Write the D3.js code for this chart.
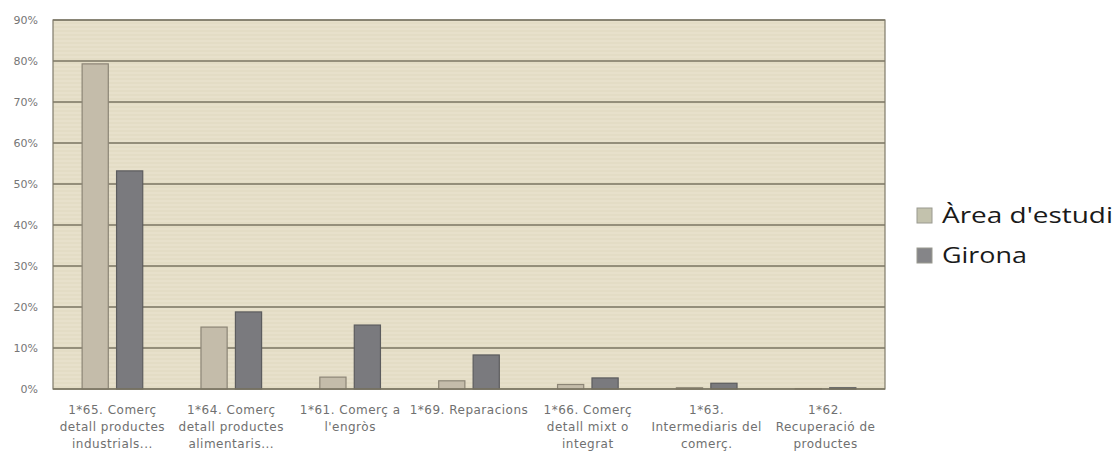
<!DOCTYPE html>
<html><head><meta charset="utf-8">
<script src="https://cdn.jsdelivr.net/npm/d3@7"></script>
<style>body{margin:0;background:#fff;} svg{display:block;}</style>
</head><body>
<svg id="chart" width="1119" height="457"></svg>
<script>
const categories = [
  ["1*65. Comerç","detall productes","industrials..."],
  ["1*64. Comerç","detall productes","alimentaris..."],
  ["1*61. Comerç a","l'engròs"],
  ["1*69. Reparacions"],
  ["1*66. Comerç","detall mixt o","integrat"],
  ["1*63.","Intermediaris del","comerç."],
  ["1*62.","Recuperació de","productes"]
];
const seriesNames = ["Àrea d'estudi", "Girona"];
const areaValues = [79.3, 15.1, 2.9, 2.0, 1.1, 0.3, 0.1];
const gironaValues = [53.2, 18.8, 15.6, 8.3, 2.7, 1.4, 0.3];
const yTicks = [0,10,20,30,40,50,60,70,80,90];

const fills = ["#c4bcaa", "#7a7a7e"];
const strokes = ["#8c8576", "#5c5c5e"];
const legendFills = ["#c3c2ad", "#858588"];

const svg = d3.select("#chart");
const m = {left:53, right:1119-885, top:20, bottom:457-389};
const W = 1119 - m.left - m.right, H = 457 - m.top - m.bottom;
const g = svg.append("g").attr("transform", `translate(${m.left},${m.top})`);

const x0 = d3.scaleBand().domain(d3.range(categories.length)).range([0,W]).paddingInner(0.49).paddingOuter(0.245);
const x1 = d3.scaleBand().domain([0,1]).range([0,x0.bandwidth()]).paddingInner(0.24);
const y = d3.scaleLinear().domain([0,90]).range([H,0]);

// background
g.append("rect").attr("width",W).attr("height",H).attr("fill","#e3dcc5");
const stripes = g.append("g");
for (let i=0;i<H;i+=4){ stripes.append("rect").attr("x",0).attr("y",i).attr("width",W).attr("height",2).attr("fill","#ebe5d2").attr("opacity",0.45); }

// gridlines
g.append("g").selectAll("line").data(yTicks.slice(1)).join("line")
  .attr("x1",0).attr("x2",W).attr("y1",d=>y(d)).attr("y2",d=>y(d))
  .attr("stroke","#7a7462").attr("stroke-width",1.6);

// frame
g.append("rect").attr("width",W).attr("height",H).attr("fill","none").attr("stroke","#7f7a6a").attr("stroke-width",1.2);

const FONT = "'DejaVu Sans', Verdana, sans-serif";

// y axis labels
const yAxis = d3.axisLeft(y).tickValues(yTicks).tickFormat(d=>d+"%").tickSize(0).tickPadding(15);
const ya = g.append("g").call(yAxis);
ya.select(".domain").remove();
ya.selectAll("text").attr("font-family",FONT).attr("font-size",11).attr("fill","#767676");

// bars
const data = categories.map((c,i)=>[areaValues[i], gironaValues[i]]);
const grp = g.append("g").selectAll("g").data(data).join("g").attr("transform",(d,i)=>`translate(${x0(i)},0)`);
grp.selectAll("rect").data(d=>d).join("rect")
  .attr("x",(d,j)=>x1(j)).attr("width",x1.bandwidth())
  .attr("y",d=>y(d)).attr("height",d=>H-y(d))
  .attr("fill",(d,j)=>fills[j]).attr("stroke",(d,j)=>strokes[j]).attr("stroke-width",1.2);

// bottom axis line
g.append("line").attr("x1",0).attr("x2",W).attr("y1",H).attr("y2",H).attr("stroke","#7a7462").attr("stroke-width",1.6);

// category labels
const xl = g.append("g");
categories.forEach((lines,i)=>{
  const cx = x0(i)+x0.bandwidth()/2;
  const t = xl.append("text").attr("x",cx).attr("y",H+25)
    .attr("text-anchor","middle").attr("font-family",FONT)
    .attr("font-size",12).attr("letter-spacing",0.5).attr("fill","#707070");
  lines.forEach((l,k)=>t.append("tspan").attr("x",cx).attr("dy",k===0?0:17).text(l));
});

// legend
const legendWidths = [171, 85];
const lg = svg.append("g").attr("transform","translate(917,208)");
seriesNames.forEach((n,i)=>{
  lg.append("rect").attr("x",0).attr("y",i*40).attr("width",15).attr("height",15)
    .attr("fill",legendFills[i]).attr("stroke","#9a9a90").attr("stroke-width",1);
  lg.append("text").attr("x",25).attr("y",i*40+15).attr("font-family","'Open Sans', 'Noto Sans', sans-serif")
    .attr("font-size",22).attr("fill","#1a1a1a")
    .attr("textLength",legendWidths[i]).attr("lengthAdjust","spacingAndGlyphs").text(n);
});
</script>
</body></html>
